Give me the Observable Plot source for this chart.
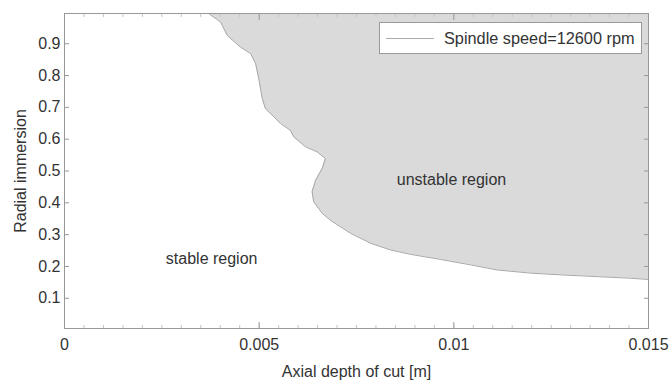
<!DOCTYPE html>
<html>
<head>
<meta charset="utf-8">
<script src="https://cdn.jsdelivr.net/npm/d3@7"></script>
<script src="https://cdn.jsdelivr.net/npm/@observablehq/plot@0.6"></script>
<style>
  body { margin: 0; background: #fff; }
  #wrap { position: relative; width: 671px; height: 381px; font-family: "Liberation Sans", Arial, sans-serif; }
  #legend { position: absolute; left: 379px; top: 22px; width: 261px; height: 30px; border: 1px solid #999; background: #fff; box-sizing: content-box; }
  #legend .swatch { position: absolute; left: 6px; top: 15px; width: 48px; height: 0; border-top: 1px solid #aaa; }
  #legend .lab { position: absolute; left: 64px; top: 4px; font-size: 16.3px; color: #333; line-height: 22px; white-space: nowrap; }
</style>
</head>
<body>
<div id="wrap"></div>
<script>
// Stability boundary (axial depth of cut vs radial immersion)
const boundaryY = [0.995, 0.968, 0.926, 0.889, 0.869, 0.837, 0.790, 0.728, 0.696, 0.670, 0.649, 0.628, 0.607, 0.576, 0.560, 0.539, 0.508, 0.471, 0.435, 0.403, 0.367, 0.345, 0.304, 0.273, 0.252, 0.238, 0.222, 0.205, 0.189, 0.179, 0.173, 0.168, 0.163, 0.159];
const boundaryX = [0.00370, 0.00401, 0.00418, 0.00452, 0.00478, 0.00491, 0.00499, 0.00508, 0.00516, 0.00538, 0.00555, 0.00580, 0.00589, 0.00619, 0.00649, 0.00670, 0.00662, 0.00645, 0.00636, 0.00640, 0.00662, 0.00683, 0.00735, 0.00786, 0.00837, 0.00889, 0.00966, 0.01043, 0.01111, 0.01197, 0.01282, 0.01368, 0.01454, 0.01500];
const xMax = 0.015;
const xTicks = [0, 0.005, 0.01, 0.015];
const xTickLabels = ["0", "0.005", "0.01", "0.015"];
const yTicks = [0.1, 0.2, 0.3, 0.4, 0.5, 0.6, 0.7, 0.8, 0.9];
const xMinor = d3.range(0, 0.01501, 0.0005);
const regionLabels = ["stable region", "unstable region"];
const regionX = [0.00378, 0.00994];
const regionY = [0.223, 0.471];
const legendLabel = "Spindle speed=12600 rpm";

const boundary = boundaryY.map((y, i) => ({x: boundaryX[i], y, x2: xMax}));
const regions = regionLabels.map((t, i) => ({t, x: regionX[i], y: regionY[i]}));

const font = "\"Liberation Sans\", Arial, sans-serif";
const chart = Plot.plot({
  width: 671,
  height: 381,
  marginLeft: 64,
  marginRight: 23,
  marginTop: 13,
  marginBottom: 53,
  style: {fontFamily: font, fontSize: "16px", color: "#333", background: "#fff", overflow: "visible"},
  x: {domain: [0, xMax]},
  y: {domain: [0.005, 0.995]},
  marks: [
    Plot.areaX(boundary, {y: "y", x1: "x", x2: "x2", fill: "#dadada"}),
    Plot.line(boundary, {x: "x", y: "y", stroke: "#a8a8a8", strokeWidth: 1}),
    Plot.text(regions, {x: "x", y: "y", text: "t", fill: "#333", fontSize: 16}),
    // minor ticks (inward), bottom and top
    Plot.axisX(xMinor, {anchor: "bottom", tickSize: -3, tickFormat: () => "", stroke: "#c4c4c4", label: null}),
    Plot.axisX(xMinor, {anchor: "top", tickSize: -3, tickFormat: () => "", stroke: "#c4c4c4", label: null}),
    // major ticks
    Plot.axisX(xTicks, {anchor: "bottom", tickSize: -6, tickPadding: 16, tickFormat: (d, i) => xTickLabels[i], stroke: "#999", label: "Axial depth of cut [m]", labelArrow: "none", labelAnchor: "center", labelOffset: 48, fill: "#333"}),
    Plot.axisX(xTicks, {anchor: "top", tickSize: -6, tickFormat: () => "", stroke: "#999", label: null}),
    Plot.axisY(yTicks, {anchor: "left", tickSize: -5, tickPadding: 9, stroke: "#999", label: "Radial immersion", labelArrow: "none", labelAnchor: "center", labelOffset: 50, fill: "#333"}),
    Plot.axisY(yTicks, {anchor: "right", tickSize: -5, tickFormat: () => "", stroke: "#999", label: null}),
    Plot.frame({stroke: "#999"})
  ]
});
const wrap = document.getElementById("wrap");
wrap.appendChild(chart);
const lg = document.createElement("div");
lg.id = "legend";
lg.innerHTML = `<div class="swatch"></div><div class="lab">${legendLabel}</div>`;
wrap.appendChild(lg);
</script>
</body>
</html>
